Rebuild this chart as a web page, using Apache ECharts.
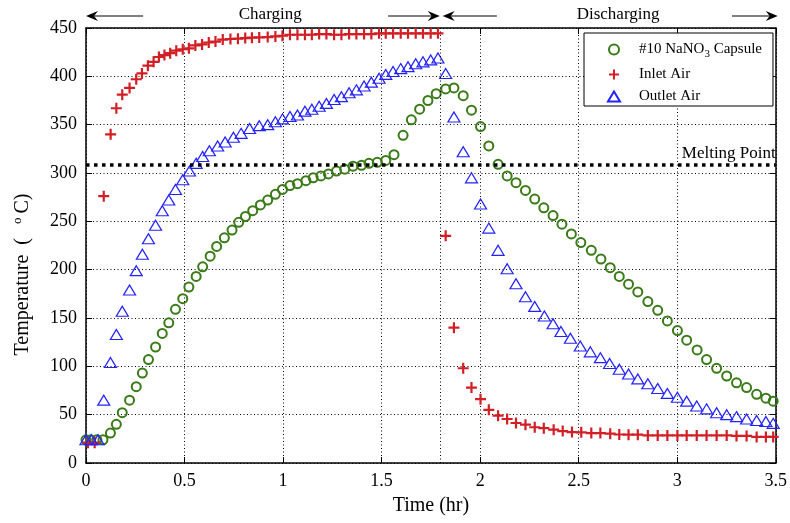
<!DOCTYPE html>
<html><head><meta charset="utf-8">
<script src="https://cdn.jsdelivr.net/npm/echarts@6.0.0/dist/echarts.min.js"></script>
<style>html,body{margin:0;padding:0;background:#fff}#c{width:790px;height:523px}</style>
</head><body><div id="c"></div>
<script>
// ---- data (hours, °C) ----
const capsuleName = '#10 NaNO3 Capsule';
const inletName = 'Inlet Air';
const outletName = 'Outlet Air';

const capsuleTime = [0.0,0.024,0.055,0.086,0.124,0.154,0.184,0.221,0.255,0.286,0.317,0.353,0.387,0.42,0.454,0.491,0.522,0.559,0.592,0.63,0.663,0.702,0.741,0.775,0.809,0.846,0.885,0.922,0.961,0.997,1.035,1.073,1.116,1.153,1.192,1.23,1.271,1.313,1.355,1.398,1.436,1.478,1.521,1.563,1.609,1.651,1.693,1.735,1.777,1.825,1.867,1.914,1.956,2.002,2.044,2.091,2.137,2.182,2.23,2.277,2.323,2.37,2.415,2.463,2.511,2.564,2.613,2.66,2.706,2.753,2.8,2.851,2.901,2.95,3.001,3.048,3.101,3.149,3.2,3.251,3.301,3.352,3.403,3.45,3.487];
const capsuleTemp = [24,24,24,24,31,40,52,65,79,93,107,120,134,145,159,170,182,193,203,214,224,233,241,249,255,261,267,272,278,283,287,289,292,295,297,299,302,304,307,308,310,311,313,319,339,355,366,375,382,387,388,380,365,348,328,309,297,290,282,273,264,256,247,237,228,220,211,202,193,185,177,167,158,147,137,127,117,107,98,90,83,78,71,67,64];

const inletTime = [0.01,0.044,0.09,0.125,0.154,0.184,0.221,0.255,0.284,0.314,0.343,0.37,0.398,0.427,0.458,0.491,0.522,0.555,0.589,0.623,0.657,0.694,0.733,0.771,0.808,0.842,0.879,0.922,0.961,0.997,1.035,1.073,1.111,1.146,1.183,1.22,1.259,1.296,1.335,1.372,1.411,1.448,1.487,1.521,1.558,1.597,1.634,1.673,1.71,1.749,1.786,1.825,1.867,1.914,1.956,2.002,2.044,2.091,2.137,2.182,2.23,2.277,2.323,2.373,2.419,2.466,2.513,2.564,2.61,2.66,2.706,2.753,2.8,2.851,2.901,2.95,3.001,3.048,3.099,3.149,3.2,3.251,3.301,3.352,3.403,3.45,3.487];
const inletTemp = [21,21,276,340,367,381,388,397,403,411,415,420,422,424,426.5,428,429,432,433,435,436,438,438.6,439,439.6,440,440.3,440.6,441.3,442,443,443,443,443,443.7,443.7,443,443,443.7,443.7,443.7,443.7,444.5,444.5,444.5,444.5,444.5,444.5,444.5,444.5,444.5,235,140,98,78,66,55,49,45.5,41.4,39.6,37,36,34.5,33,32,31.7,31,31,30.3,29.5,29.3,29.3,28.5,28.5,28.5,28.5,28.5,28.5,28.5,28.5,28.5,28,28,27,27,27];

const outletTime = [0.0,0.027,0.061,0.09,0.124,0.154,0.184,0.221,0.255,0.286,0.317,0.353,0.387,0.42,0.454,0.491,0.525,0.559,0.592,0.626,0.668,0.706,0.748,0.787,0.83,0.879,0.922,0.961,0.997,1.035,1.073,1.111,1.146,1.183,1.22,1.259,1.296,1.335,1.372,1.411,1.448,1.487,1.521,1.558,1.597,1.634,1.673,1.71,1.749,1.786,1.825,1.867,1.914,1.956,2.002,2.044,2.091,2.137,2.182,2.23,2.277,2.326,2.37,2.41,2.458,2.508,2.559,2.61,2.657,2.706,2.753,2.8,2.851,2.901,2.95,3.001,3.048,3.099,3.149,3.2,3.251,3.301,3.352,3.403,3.45,3.487];
const outletTemp = [24,24,24,65,104,133,157,179,199,216,232,246,261,272,283,293,302,310,317,323,328,332,337,341,346,349,350,353,356,358.5,360,364,366,369,372,376,379,383,386,390,394,398,402,405,408,410,413,415,417,419,403,358,322,295,268,243,220,201,185.5,172,162,152,144,136,129,121,115,109,103,97,92,87,82,77,72,68,64,59,56,52,50,48,45.5,44,43,41];

const meltingPoint = 309;
const phaseSplit = 1.8;
const xMin = 0, xMax = 3.5, xStep = 0.5;
const yMin = 0, yMax = 450, yStep = 50;

// ---- chart ----
const FONT = '"Liberation Serif", "Times New Roman", serif';
const pairs = (t, v) => t.map((x, i) => [x, v[i]]);
const gridLine = {color: '#000', type: [1, 2.5], width: 1};
const axisLineStyle = {color: '#000', width: 1.5};
const tickStyle = {show: true, inside: true, length: 6, lineStyle: {color: '#000', width: 1}};
const plusPath = 'path://M4,0H6V4H10V6H6V10H4V6H0V4H4Z';

const chart = echarts.init(document.getElementById('c'), null, {renderer: 'canvas'});
const option = {
  animation: false,
  backgroundColor: '#fff',
  grid: {left: 86, right: 13, top: 28, bottom: 60},
  xAxis: [{
    type: 'value', min: xMin, max: xMax, interval: xStep,
    axisLine: {show: true, onZero: false, lineStyle: axisLineStyle},
    axisTick: tickStyle,
    axisLabel: {color: '#000', fontFamily: FONT, fontSize: 18, margin: 9},
    splitLine: {show: true, lineStyle: gridLine},
    name: 'Time (hr)', nameLocation: 'middle', nameGap: 33,
    nameTextStyle: {color: '#000', fontFamily: FONT, fontSize: 20}
  }, {
    type: 'value', position: 'top', min: xMin, max: xMax, interval: xStep,
    axisLine: {show: true, onZero: false, lineStyle: axisLineStyle},
    axisTick: tickStyle, axisLabel: {show: false}, splitLine: {show: false}
  }],
  yAxis: [{
    type: 'value', min: yMin, max: yMax, interval: yStep,
    axisLine: {show: true, onZero: false, lineStyle: axisLineStyle},
    axisTick: tickStyle,
    axisLabel: {color: '#000', fontFamily: FONT, fontSize: 18, margin: 9},
    splitLine: {show: true, lineStyle: gridLine},
    name: 'Temperature {lp|(}{sup|o}{c|C)}', nameLocation: 'middle', nameGap: 52,
    nameTextStyle: {color: '#000', fontFamily: FONT, fontSize: 20, padding: [0, 58, 0, 0],
      rich: {
        lp: {color: '#000', fontFamily: FONT, fontSize: 20, padding: [0, 14, 0, 5]},
        sup: {color: '#000', fontFamily: FONT, fontSize: 13, padding: [0, 4, 10, 0]},
        c: {color: '#000', fontFamily: FONT, fontSize: 20}
      }}
  }, {
    type: 'value', position: 'right', min: yMin, max: yMax, interval: yStep,
    axisLine: {show: true, onZero: false, lineStyle: axisLineStyle},
    axisTick: tickStyle, axisLabel: {show: false}, splitLine: {show: false}
  }],
  legend: {
    orient: 'vertical', left: 584, top: 33, padding: [9, 11, 2, 23], itemGap: 7,
    itemWidth: 12, itemHeight: 10,
    backgroundColor: '#fff', borderColor: '#000', borderWidth: 1, borderRadius: 0,
    data: [capsuleName, inletName, outletName],
    formatter: n => n === capsuleName ? '#10 NaNO{sub|3} Capsule' : n,
    textStyle: {color: '#000', fontFamily: FONT, fontSize: 15, padding: [0, 0, 0, 14],
      rich: {sub: {color: '#000', fontFamily: FONT, fontSize: 11, padding: [10, 0, 0, 0]}}}
  },
  series: [{
    name: capsuleName, type: 'scatter', data: pairs(capsuleTime, capsuleTemp),
    symbol: 'circle', symbolSize: 9,
    itemStyle: {color: 'rgba(255,255,255,0)', borderColor: '#3a7a18', borderWidth: 2, opacity: 1},
    markLine: {
      silent: true, symbol: ['none', 'none'], animation: false,
      data: [
        {yAxis: meltingPoint, lineStyle: {color: '#000', width: 3.5, type: [3.5, 4.5]},
         label: {show: true, position: 'insideEndTop', formatter: 'Melting Point', color: '#000',
                 fontFamily: FONT, fontSize: 17, distance: [0, 2]}},
        {xAxis: phaseSplit, lineStyle: gridLine, label: {show: false}}
      ]
    }
  }, {
    name: inletName, type: 'scatter', data: pairs(inletTime, inletTemp),
    symbol: plusPath, symbolSize: 11,
    itemStyle: {color: '#d21f26', opacity: 1}
  }, {
    name: outletName, type: 'scatter', data: pairs(outletTime, outletTemp),
    symbol: 'triangle', symbolSize: [12, 10],
    itemStyle: {color: 'rgba(255,255,255,0)', borderColor: '#2323ff', borderWidth: 1.2, opacity: 1}
  }]
};
chart.setOption(option);

// ---- phase annotations above the plot ----
const px = x => chart.convertToPixel({gridIndex: 0}, [x, 0])[0];
const annY = 16;
const arrows = [[0.29, 0], [1.533, 1.795], [2.085, 1.81], [3.278, 3.51]];
const labels = [['Charging', 0.935], ['Discharging', 2.70]];
const g = [];
arrows.forEach(([a, b]) => {
  const x1 = px(a), x2 = px(b), d = x2 > x1 ? 1 : -1;
  g.push({type: 'line', shape: {x1: x1, y1: annY, x2: x2 - d * 6, y2: annY}, style: {stroke: '#000', lineWidth: 1.2}});
  g.push({type: 'polygon', shape: {points: [[x2, annY], [x2 - d * 12, annY - 5], [x2 - d * 8, annY], [x2 - d * 12, annY + 5]]}, style: {fill: '#000'}});
});
labels.forEach(([t, x]) => {
  g.push({type: 'text', style: {text: t, x: px(x), y: annY - 1, align: 'center', verticalAlign: 'middle', textAlign: 'center', textVerticalAlign: 'middle', font: '17px ' + FONT, fill: '#000'}});
});
chart.setOption({graphic: g});
</script></body></html>
